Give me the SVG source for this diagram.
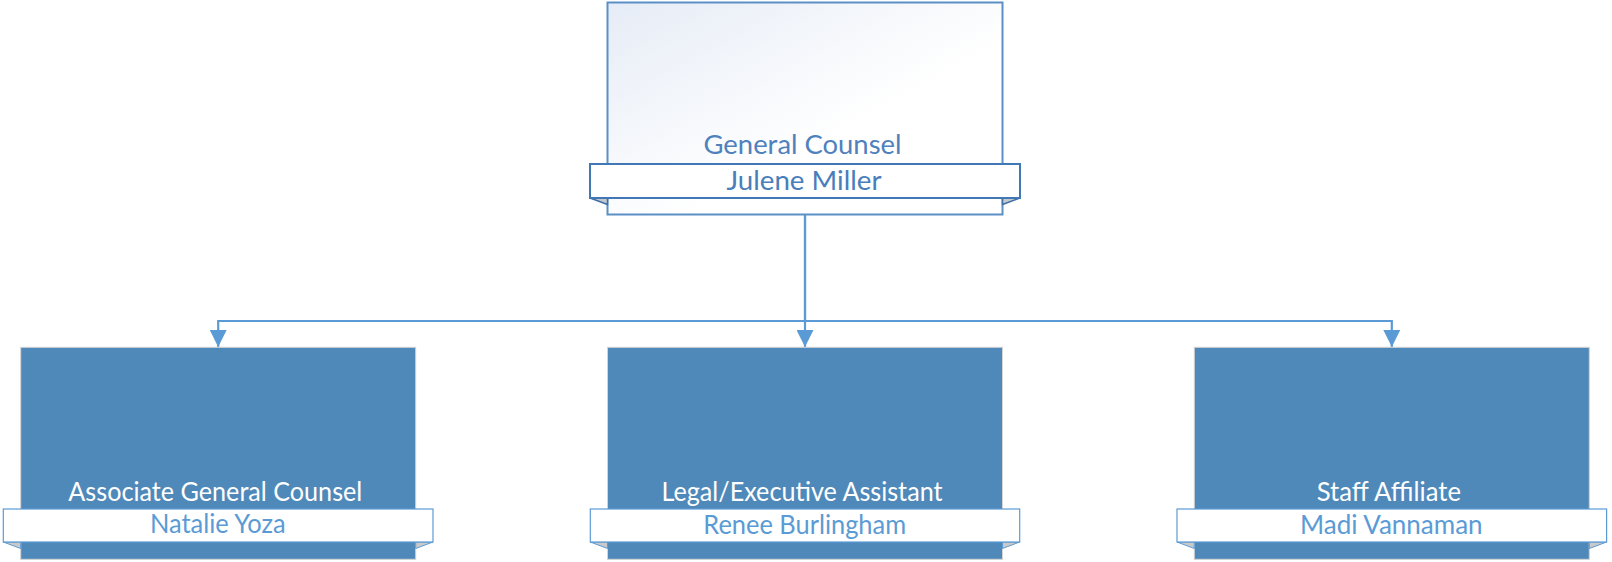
<svg xmlns="http://www.w3.org/2000/svg" width="1612" height="562" viewBox="0 0 1612 562">
  <defs>
    <linearGradient id="topFill" x1="0" y1="0" x2="1" y2="1">
      <stop offset="0" stop-color="#E6ECF6"/>
      <stop offset="0.6" stop-color="#FFFFFF"/>
      <stop offset="1" stop-color="#FFFFFF"/>
    </linearGradient>
    <marker id="arrow" markerUnits="userSpaceOnUse" viewBox="0 0 17 17" refX="17" refY="8.5" markerWidth="17" markerHeight="17" orient="auto">
      <path d="M0,0 L17,8.5 L0,17 z" fill="#5B9BD5"/>
    </marker>
    <style>
      .lbl { font-family: Lato, "Open Sans", "Liberation Sans", sans-serif; font-size: 27.5px; text-anchor: middle; }
      .conn { fill: none; stroke: #5B9BD5; stroke-width: 2.2; }
      .topbox { fill: url(#topFill); stroke: #5B8FC6; stroke-width: 2; }
      .box { fill: #4F89BA; stroke: #D4D4D4; stroke-width: 1; }
      .topbanner { fill: #FFFFFF; stroke: #4177B5; stroke-width: 2; }
      .banner { fill: #FFFFFF; stroke: #5B9BD5; stroke-width: 1.2; }
      .topfold { fill: #C4C8CE; stroke: #3F6FA5; stroke-width: 1.5; stroke-linejoin: round; }
      .fold { fill: #C9C9C9; stroke: #5B9BD5; stroke-width: 1; stroke-linejoin: round; }
      .ttl-top { fill: #4F81BD; }
      .name-top { fill: #4A7EBB; }
      .ttl { fill: #FFFFFF; }
      .name { fill: #5B9BD5; }
    </style>
  </defs>

  <g id="connectors">
    <path class="conn" d="M805,214 V321 H218.2 V347" marker-end="url(#arrow)"/>
    <path class="conn" d="M805,214 V347" marker-end="url(#arrow)"/>
    <path class="conn" d="M805,321 H1391.8 V347" marker-end="url(#arrow)"/>
  </g>

  <g id="node-general-counsel">
    <rect class="topbox" x="607.5" y="2.5" width="395" height="212"/>
    <path class="topfold" d="M590,198 L607.5,198 L607.5,204.5 Z"/>
    <path class="topfold" d="M1020,198 L1002.5,198 L1002.5,204.5 Z"/>
    <rect class="topbanner" x="590" y="164" width="430" height="34"/>
    <text class="lbl ttl-top" x="802.5" y="154" textLength="198" lengthAdjust="spacingAndGlyphs">General Counsel</text>
    <text class="lbl name-top" x="804" y="190" textLength="155" lengthAdjust="spacingAndGlyphs">Julene Miller</text>
  </g>

  <g id="node-associate-general-counsel">
    <rect class="box" x="20.7" y="347.3" width="395" height="212"/>
    <path class="fold" d="M3.3,542 L20.7,542 L20.7,548.5 Z"/>
    <path class="fold" d="M433,542 L415.7,542 L415.7,548.5 Z"/>
    <rect class="banner" x="3.3" y="509" width="429.7" height="33"/>
    <text class="lbl ttl" x="215.3" y="501" textLength="294" lengthAdjust="spacingAndGlyphs">Associate General Counsel</text>
    <text class="lbl name" x="217.8" y="533.3" textLength="135.7" lengthAdjust="spacingAndGlyphs">Natalie Yoza</text>
  </g>

  <g id="node-legal-executive-assistant">
    <rect class="box" x="607.5" y="347.3" width="395" height="212"/>
    <path class="fold" d="M590.3,542 L607.5,542 L607.5,548.5 Z"/>
    <path class="fold" d="M1019.7,542 L1002.5,542 L1002.5,548.5 Z"/>
    <rect class="banner" x="590.3" y="509" width="429.4" height="33"/>
    <text class="lbl ttl" x="802" y="500.7" textLength="281" lengthAdjust="spacingAndGlyphs">Legal/Executive Assistant</text>
    <text class="lbl name" x="804.7" y="534" textLength="202.7" lengthAdjust="spacingAndGlyphs">Renee Burlingham</text>
  </g>

  <g id="node-staff-affiliate">
    <rect class="box" x="1194.3" y="347.3" width="395" height="212"/>
    <path class="fold" d="M1177,542 L1194.3,542 L1194.3,548.5 Z"/>
    <path class="fold" d="M1606.6,542 L1589.3,542 L1589.3,548.5 Z"/>
    <rect class="banner" x="1177" y="509" width="429.6" height="33"/>
    <text class="lbl ttl" x="1388.8" y="501" textLength="144.3" lengthAdjust="spacingAndGlyphs">Staff Affiliate</text>
    <text class="lbl name" x="1391.3" y="533.5" textLength="182.7" lengthAdjust="spacingAndGlyphs">Madi Vannaman</text>
  </g>
</svg>
